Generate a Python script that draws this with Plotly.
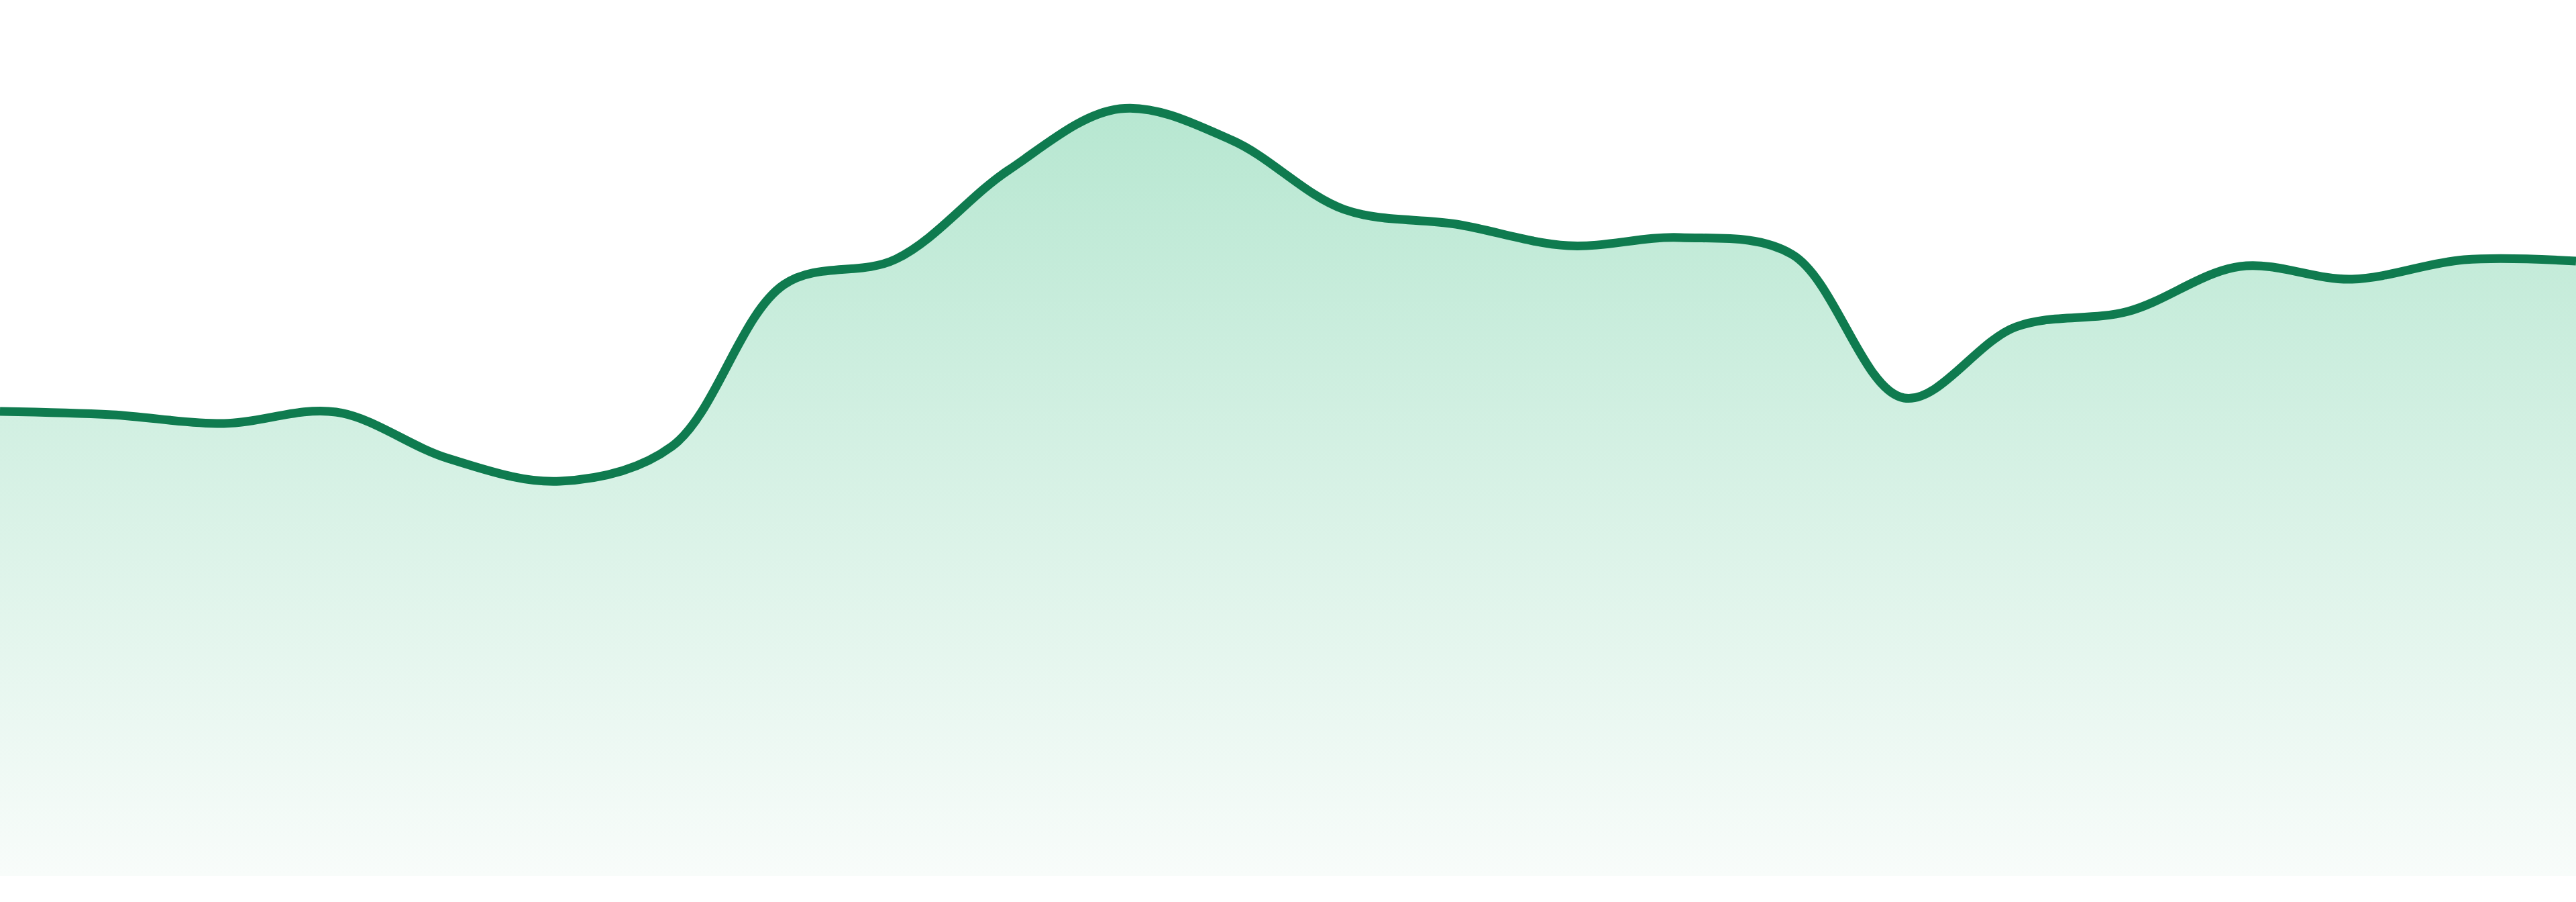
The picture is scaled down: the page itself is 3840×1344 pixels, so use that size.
import plotly.graph_objects as go

x_idx = list(range(24))
values = [692, 687, 674, 691, 622, 588, 640, 881, 919, 1051, 1143, 1096,
          993, 971, 939, 951, 926, 712, 818, 841, 908, 889, 918, 916]

line_color = "#0f7b4f"

fig = go.Figure()
fig.add_trace(
    go.Scatter(
        x=x_idx,
        y=values,
        mode="lines",
        line=dict(color=line_color, width=13, shape="spline", smoothing=1),
        fill="tozeroy",
        fillgradient=dict(
            type="vertical",
            start=0,
            stop=max(values),
            colorscale=[[0, "rgb(248,252,250)"], [1, "rgb(183,231,209)"]],
        ),
        hoverinfo="skip",
        showlegend=False,
    )
)

fig.update_xaxes(visible=False, range=[0, 23], showgrid=False, zeroline=False)
fig.update_yaxes(visible=False, range=[0, 1305], showgrid=False, zeroline=False)
fig.update_layout(
    width=3840,
    height=1344,
    margin=dict(l=0, r=0, t=0, b=39),
    paper_bgcolor="white",
    plot_bgcolor="white",
)

# drop the browser's default body margin so the plot sits flush in the window
fig.write_html(
    "out.html",
    config={"displayModeBar": False},
    post_script="document.body.style.margin = '0';",
)
